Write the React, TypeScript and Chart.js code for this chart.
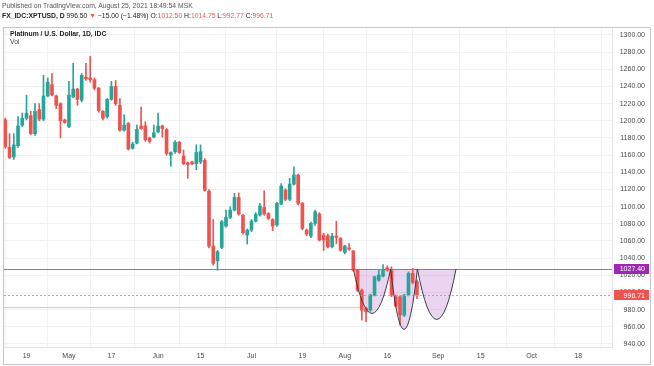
import React, { useEffect, useRef } from 'react';
import { Chart, registerables } from 'chart.js';

Chart.register(...registerables);

// ---- data ----
const START_DATE = '2021-04-12';
const FUTURE_BARS = 46;

const OPEN = [1201, 1169, 1158, 1171, 1195, 1203, 1206, 1185, 1213, 1202, 1229, 1242, 1229, 1220, 1201, 1193, 1228, 1237, 1224, 1251, 1250, 1248, 1238, 1211, 1205,
  1225, 1240, 1218, 1189, 1197, 1168, 1174, 1194, 1194, 1180, 1181, 1187, 1194, 1190, 1160, 1164, 1175, 1159, 1151, 1152, 1150, 1152, 1154, 1118,
  1054, 1037, 1052.5, 1077.4, 1087.5, 1096, 1110.8, 1090, 1067, 1072.7, 1083.2, 1090.2, 1099, 1092, 1085, 1078.6, 1103, 1119.3, 1108.5, 1126.3, 1136.8, 1103.8, 1072.7,
  1065.7, 1080.5, 1091.4, 1067, 1066, 1053.3, 1065.7, 1063, 1046.7, 1052, 1048.3, 1026, 1002.7, 981.8, 979.5, 997, 1014.4, 1019, 1028.8, 1025.3, 995, 995, 973.6, 997, 1022.3, 1012.5];
const HIGH = [1203, 1185, 1185, 1205, 1209, 1230, 1211, 1220, 1220, 1253, 1250, 1255, 1230, 1221, 1202, 1246, 1267, 1238, 1255, 1267, 1275, 1250, 1239, 1212, 1226,
  1246, 1247, 1226, 1207, 1198, 1175, 1195, 1216, 1199, 1181, 1195, 1209, 1195, 1191, 1164, 1177, 1176, 1166, 1152, 1153, 1172, 1172, 1156, 1120,
  1085, 1049, 1084, 1096, 1100, 1115.5, 1116, 1091, 1074, 1085, 1093, 1103.8, 1118.5, 1093, 1086, 1105, 1127, 1121, 1133, 1146.5, 1138, 1105, 1074,
  1082, 1096, 1093, 1069, 1068, 1069, 1083, 1064, 1055, 1057, 1049, 1027, 1004, 983, 998, 1019, 1026, 1032.6, 1031, 1030, 997, 996, 998, 1024, 1028, 1014.75];
const LOW = [1168, 1156, 1155, 1169, 1193, 1201, 1184, 1183, 1200, 1200, 1228, 1229, 1214, 1180, 1197, 1192, 1227, 1218, 1222, 1247, 1245, 1236, 1210, 1201, 1203,
  1224, 1218, 1188, 1188, 1166, 1167, 1173, 1190, 1176, 1174, 1180, 1186, 1181, 1160, 1147, 1162, 1162, 1149, 1133, 1149, 1143, 1150, 1118, 1052,
  1032, 1026, 1051, 1076, 1086, 1095, 1090, 1068, 1056.4, 1071, 1082, 1089, 1090, 1085, 1072, 1077, 1102, 1107, 1107, 1125, 1102, 1073, 1066,
  1064, 1078, 1060, 1049, 1052, 1052, 1057, 1048, 1045, 1049, 1025, 1001, 967.8, 966, 978, 996, 1013, 1018, 1025, 995, 983, 962, 972, 996, 1010, 992.77];
const CLOSE = [1170, 1157, 1172, 1194, 1203, 1209, 1185, 1211, 1202, 1229, 1245, 1230, 1218, 1200, 1198, 1230, 1237, 1225, 1253, 1249, 1248, 1238, 1212, 1203, 1225,
  1240, 1220, 1189, 1195, 1167, 1173, 1190, 1191, 1178, 1176, 1186, 1194, 1191, 1162, 1163, 1175, 1163, 1150, 1149, 1150, 1163, 1164, 1119, 1054,
  1034, 1047.5, 1082.4, 1087.5, 1096, 1110.8, 1091.4, 1069.6, 1072.7, 1083.2, 1091, 1100.7, 1091.4, 1086.3, 1077.4, 1103.8, 1124, 1108.5, 1126.3, 1136.8, 1103.8, 1074.7, 1068,
  1080.5, 1094, 1061.1, 1061, 1053, 1065.7, 1064.2, 1049.4, 1054.1, 1050.6, 1026, 1002.7, 979.5, 977.5, 997, 1018.3, 1020.3, 1026.9, 1026, 997, 984.2, 973.6, 997, 1022.3, 1011.71, 996.71];

const TICK_DATES = ['2021-04-19', '2021-05-03', '2021-05-17', '2021-06-01', '2021-06-15', '2021-07-01', '2021-07-19', '2021-08-02', '2021-08-16', '2021-09-01', '2021-09-15', '2021-10-01', '2021-10-18'];
const TICK_LABELS = ['19', 'May', '17', 'Jun', '15', 'Jul', '19', 'Aug', '16', 'Sep', '15', 'Oct', '18'];
const Y_TICKS = [940, 960, 980, 1000, 1020, 1040, 1060, 1080, 1100, 1120, 1140, 1160, 1180, 1200, 1220, 1240, 1260, 1280, 1300];

const RESISTANCE = 1027.4;
const LAST_PRICE = 996.71;
const SUPPORT_LEVEL = 982.6;
const SUPPORT_END = 84.3;

// cup drawings (bar index anchors, bottom price)
const CUP_LEFT = [82.0, 90.8, 97.1];
const CUP_RIGHT = [90.8, 97.1, 106.2];
const CUP_BOTTOM = [975.6, 957, 968.6];

// ---- helpers ----
function tradingDays(start: string, count: number): string[] {
  const [yy, mm, dd] = start.split('-').map(Number);
  const d = new Date(Date.UTC(yy, mm - 1, dd));
  const out: string[] = [];
  while (out.length < count) {
    const wd = d.getUTCDay();
    if (wd !== 0 && wd !== 6) out.push(d.toISOString().slice(0, 10));
    d.setUTCDate(d.getUTCDate() + 1);
  }
  return out;
}

const DATES = tradingDays(START_DATE, OPEN.length + FUTURE_BARS);
const TICK_INDEX = TICK_DATES.map((t) => DATES.indexOf(t));

const UP = '#26a69a';
const DOWN = '#ef5350';
const PURPLE = '#9c27b0';
const FONT = '"Liberation Sans", Arial, sans-serif';
const GRID = '#f0f2f6';

const overlayPlugin = {
  id: 'tvOverlay',
  beforeDatasetsDraw(chart: any) {
    const { ctx, chartArea, scales } = chart;
    const x = scales.x, y = scales.y;
    ctx.save();
    ctx.beginPath();
    ctx.rect(chartArea.left, chartArea.top, chartArea.right - chartArea.left, chartArea.bottom - chartArea.top);
    ctx.clip();
    const yTop = y.getPixelForValue(RESISTANCE);
    for (let c = 0; c < CUP_LEFT.length; c++) {
      const x0 = x.getPixelForValue(CUP_LEFT[c]);
      const x2 = x.getPixelForValue(CUP_RIGHT[c]);
      const yc = y.getPixelForValue(2 * CUP_BOTTOM[c] - RESISTANCE);
      ctx.beginPath();
      ctx.moveTo(x0, yTop);
      ctx.quadraticCurveTo((x0 + x2) / 2, yc, x2, yTop);
      ctx.closePath();
      ctx.fillStyle = 'rgba(156,39,176,0.2)';
      ctx.fill();
    }
    // support line
    const ys = Math.round(y.getPixelForValue(SUPPORT_LEVEL)) + 0.5;
    ctx.beginPath();
    ctx.moveTo(chartArea.left, ys);
    ctx.lineTo(x.getPixelForValue(SUPPORT_END), ys);
    ctx.strokeStyle = '#c5ced3';
    ctx.lineWidth = 1;
    ctx.stroke();
    ctx.restore();
  },
  afterDatasetsDraw(chart: any) {
    const { ctx, chartArea, scales } = chart;
    const x = scales.x, y = scales.y;
    ctx.save();
    ctx.beginPath();
    ctx.rect(chartArea.left, chartArea.top, chartArea.right - chartArea.left, chartArea.bottom - chartArea.top);
    ctx.clip();
    // last price dotted line
    const yl = Math.round(y.getPixelForValue(LAST_PRICE)) + 0.5;
    ctx.setLineDash([2, 2]);
    ctx.beginPath();
    ctx.moveTo(chartArea.left, yl);
    ctx.lineTo(chartArea.right, yl);
    ctx.strokeStyle = '#f48a88';
    ctx.lineWidth = 1;
    ctx.stroke();
    ctx.setLineDash([]);
    // resistance line
    const yr = Math.round(y.getPixelForValue(RESISTANCE)) + 0.5;
    ctx.beginPath();
    ctx.moveTo(chartArea.left, yr);
    ctx.lineTo(chartArea.right, yr);
    ctx.strokeStyle = '#b65fc6';
    ctx.stroke();
    // cup outlines
    const yTop = y.getPixelForValue(RESISTANCE);
    ctx.strokeStyle = '#3a3d47';
    ctx.lineWidth = 1;
    for (let c = 0; c < CUP_LEFT.length; c++) {
      const x0 = x.getPixelForValue(CUP_LEFT[c]);
      const x2 = x.getPixelForValue(CUP_RIGHT[c]);
      const yc = y.getPixelForValue(2 * CUP_BOTTOM[c] - RESISTANCE);
      ctx.beginPath();
      ctx.moveTo(x0, yTop);
      ctx.quadraticCurveTo((x0 + x2) / 2, yc, x2, yTop);
      ctx.stroke();
    }
    ctx.restore();
  },
  afterDraw(chart: any) {
    const { ctx, chartArea, scales } = chart;
    const y = scales.y;
    ctx.save();
    const boxes: [number, string][] = [[RESISTANCE, PURPLE], [LAST_PRICE, DOWN]];
    ctx.font = `7px ${FONT}`;
    ctx.textAlign = 'right';
    ctx.textBaseline = 'middle';
    for (const [v, col] of boxes) {
      const py = y.getPixelForValue(v);
      ctx.fillStyle = col;
      ctx.fillRect(chartArea.right + 2, Math.round(py - 5), 35, 10);
      ctx.fillStyle = '#ffffff';
      ctx.fillText(v.toFixed(2), chartArea.right + 33, py + 0.5);
    }
    // outer frame
    ctx.strokeStyle = '#c3c6cc';
    ctx.lineWidth = 1;
    ctx.strokeRect(3.5, 27.5, 647, 337);
    ctx.restore();
  },
};

export default function App() {
  const ref = useRef<HTMLCanvasElement | null>(null);

  useEffect(() => {
    if (!ref.current) return;
    const idx = OPEN.map((_, i) => i);
    const colors = idx.map((i) => (CLOSE[i] >= OPEN[i] ? UP : DOWN));
    const chart = new Chart(ref.current, {
      type: 'bar',
      data: {
        datasets: [
          {
            label: 'wick',
            data: idx.map((i) => ({ x: i, y: [LOW[i], HIGH[i]] })) as any,
            backgroundColor: colors,
            barThickness: 1,
            grouped: false,
            borderWidth: 0,
          } as any,
          {
            label: 'body',
            data: idx.map((i) => ({ x: i, y: [OPEN[i], CLOSE[i]] })) as any,
            backgroundColor: colors,
            barThickness: 3,
            minBarLength: 1,
            grouped: false,
            borderWidth: 0,
          } as any,
        ],
      },
      options: {
        animation: false,
        responsive: false,
        devicePixelRatio: 1,
        layout: { padding: { left: 4, top: 27, right: 9, bottom: 2 } },
        plugins: { legend: { display: false }, tooltip: { enabled: false } },
        scales: {
          x: {
            type: 'linear',
            min: -0.306,
            max: 142.95,
            offset: false,
            grid: { color: GRID, drawTicks: false, tickLength: 0 },
            border: { color: '#e3e5ea' },
            ticks: {
              autoSkip: false,
              maxRotation: 0,
              padding: 5,
              color: '#4a4a4a',
              font: { family: FONT, size: 7 },
              callback: (v: any) => {
                const k = TICK_INDEX.indexOf(Number(v));
                return k >= 0 ? TICK_LABELS[k] : '';
              },
            },
            afterBuildTicks: (s: any) => {
              s.ticks = TICK_INDEX.map((v) => ({ value: v }));
            },
            afterFit: (s: any) => {
              s.height = 17;
            },
          },
          y: {
            position: 'right',
            min: 936.5,
            max: 1309.3,
            stacked: false,
            grid: { color: GRID, drawTicks: false, tickLength: 0 },
            border: { color: '#e3e5ea' },
            ticks: {
              crossAlign: 'far',
              padding: 8,
              color: '#4a4a4a',
              font: { family: FONT, size: 7 },
              callback: (v: any) => Number(v).toFixed(2),
            },
            afterBuildTicks: (s: any) => {
              s.ticks = Y_TICKS.map((v) => ({ value: v }));
            },
            afterFit: (s: any) => {
              s.width = 33;
            },
          },
        },
      } as any,
      plugins: [overlayPlugin],
    });
    return () => chart.destroy();
  }, []);

  const red = { color: DOWN };
  const txt: React.CSSProperties = { position: 'absolute', whiteSpace: 'nowrap', lineHeight: '8px', fontSize: 6.8 };
  return (
    <div style={{ position: 'fixed', left: 0, top: 0, width: 654, height: 366, background: '#fff', fontFamily: FONT, overflow: 'hidden' }}>
      <canvas ref={ref} width={654} height={366} style={{ position: 'absolute', left: 0, top: 0, width: 654, height: 366 }} />
      <div style={{ ...txt, left: 2, top: 2, color: '#555' }}>Published on TradingView.com, August 25, 2021 18:49:54 MSK</div>
      <div style={{ ...txt, left: 2, top: 12, color: '#222' }}>
        <b>FX_IDC:XPTUSD, D</b> 996.50 <span style={red}>▼</span> −15.00 (−1.48%) O:<span style={red}>1012.50</span> H:<span style={red}>1014.75</span> L:<span style={red}>992.77</span> C:<span style={red}>996.71</span>
      </div>
      <div style={{ ...txt, left: 10, top: 30, color: '#222', fontWeight: 'bold' }}>Platinum / U.S. Dollar, 1D, IDC</div>
      <div style={{ ...txt, left: 10, top: 38, color: '#444' }}>Vol</div>
    </div>
  );
}
